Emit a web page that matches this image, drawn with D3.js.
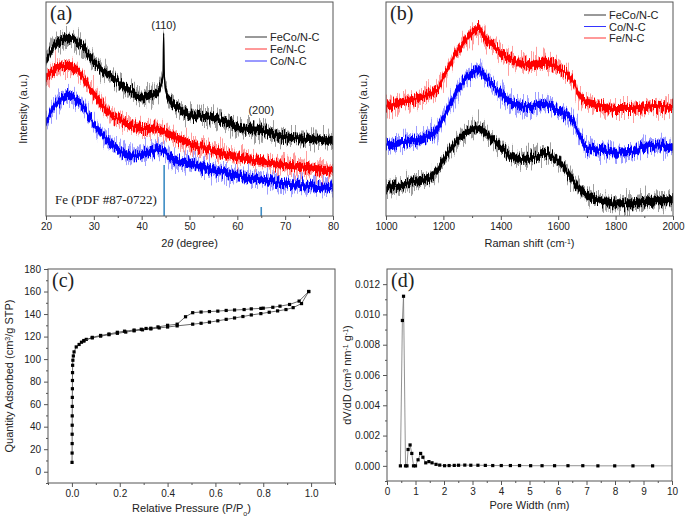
<!DOCTYPE html>
<html>
<head>
<meta charset="utf-8">
<script src="https://cdn.jsdelivr.net/npm/d3@7"></script>
<style>
  body { margin: 0; background: #fff; }
  text { font-family: "Liberation Sans", Arial, sans-serif; fill: #222; }
  .serif { font-family: "Liberation Serif", "Times New Roman", serif; }
</style>
</head>
<body>
<div class="canvas"></div>
<script>
// ---------- data ----------
// (a) XRD, intensity in arbitrary units (0-100 over the frame height)
const xrdTheta  = [20, 21, 22, 23, 25, 27, 30, 33, 35, 38, 40, 41, 43, 44, 44.45, 44.6, 44.75, 45.2, 46, 48, 50, 55, 60, 65, 70, 75, 80];
const xrdFeCo   = [73.2, 77, 80.5, 82.5, 83.3, 80.2, 72, 66, 63, 58, 55.4, 56, 57.7, 60.8, 65, 85.5, 65, 57, 53.9, 50.5, 47.5, 46.1, 41.5, 40, 36.8, 36, 35];
const xrdFe     = [64.7, 67, 69, 70, 70.1, 67, 57, 49, 45.4, 42, 40.7, 40.7, 40.9, 40.2, 39.8, 39.6, 39.4, 38.7, 37.8, 35.6, 33.7, 30.5, 27.4, 25.6, 23.7, 22.3, 21];
const xrdCo     = [44.6, 48, 51.5, 54, 56.2, 53, 43, 35, 31.4, 28.3, 29, 29.9, 30.7, 30.7, 30.4, 30.2, 30.1, 29.2, 26.8, 25.5, 24.5, 21.5, 19, 17, 15.2, 14, 12.8];
const pdfTheta  = [44.7, 65.0];
const pdfHeight = [23.8, 4.2];
const xrdTicks  = [20, 30, 40, 50, 60, 70, 80];

// (b) Raman
const ramanShift = [1000, 1050, 1100, 1150, 1180, 1200, 1250, 1300, 1320, 1350, 1400, 1450, 1500, 1550, 1600, 1650, 1680, 1700, 1750, 1800, 1850, 1900, 1950, 2000];
const ramanFe    = [51.5, 53.1, 54.6, 57, 59.3, 64.7, 77.1, 85.6, 87.9, 82.5, 76.3, 72.4, 70.5, 71.7, 69.3, 63.2, 55.4, 53.1, 51.5, 50, 50, 50.8, 51.5, 50.8];
const ramanCo    = [33, 34.5, 35.3, 37.6, 40.7, 46.1, 58.5, 67, 68.6, 64.7, 57, 52.3, 50.8, 52.3, 49.2, 44.6, 36, 32.2, 30.8, 29.6, 29.9, 32.2, 33, 31];
const ramanFeCo  = [12.8, 14.4, 15.9, 17.5, 21.4, 26, 35.3, 40.7, 41.5, 38.4, 32.2, 26.8, 26.8, 29.1, 26, 16.7, 12, 9.8, 7.4, 5.9, 5.9, 6.7, 7.4, 7.4];
const ramanTicks = [1000, 1200, 1400, 1600, 1800, 2000];

// (c) N2 isotherm
const adsP = [0.0005, 0.0008, 0.001, 0.001, 0.0012, 0.0013, 0.0015, 0.0017, 0.002, 0.0022, 0.0026, 0.003, 0.004, 0.006, 0.009, 0.018, 0.03, 0.04, 0.05, 0.06, 0.085, 0.12, 0.155, 0.19, 0.225, 0.26, 0.295, 0.33, 0.365, 0.40, 0.44, 0.505, 0.54, 0.575, 0.61, 0.645, 0.68, 0.715, 0.75, 0.79, 0.825, 0.86, 0.895, 0.925, 0.96, 0.99];
const adsQ = [8.3, 16.6, 25, 33.3, 41.3, 49.6, 58, 66, 73.7, 81, 88, 94.5, 99, 102.8, 106.4, 110.8, 113, 115, 116.5, 117.5, 118.8, 120.4, 121.7, 122.9, 124, 125.1, 126, 126.8, 127.7, 128.5, 129.5, 131, 131.8, 132.8, 134, 135.3, 136.5, 137.8, 139.2, 140.4, 141.6, 142.8, 144, 145.7, 149.3, 160];
const desP = [0.99, 0.95, 0.91, 0.87, 0.84, 0.80, 0.79, 0.75, 0.72, 0.68, 0.645, 0.61, 0.575, 0.54, 0.505, 0.475, 0.44, 0.40, 0.36, 0.33, 0.31, 0.29, 0.26, 0.22, 0.19, 0.155, 0.12, 0.085, 0.05];
const desQ = [160, 151.5, 148.5, 147, 146, 145.2, 145, 144.6, 144, 143.6, 143.2, 142.6, 142.2, 141.8, 141.2, 137.6, 131, 130, 128.6, 127.4, 127.2, 126.5, 125.8, 124.8, 123.8, 122.3, 121, 119.3, 116];
const isoXTicks = [0, 0.2, 0.4, 0.6, 0.8, 1.0];
const isoYTicks = [0, 20, 40, 60, 80, 100, 120, 140, 160, 180];

// (d) pore size distribution
const poreW  = [0.47, 0.54, 0.58, 0.65, 0.70, 0.74, 0.81, 0.87, 0.93, 1.00, 1.09, 1.18, 1.26, 1.36, 1.47, 1.58, 1.72, 1.85, 2.02, 2.18, 2.36, 2.51, 2.73, 2.94, 3.19, 3.45, 3.71, 4.01, 4.33, 4.65, 5.04, 5.44, 5.88, 6.35, 6.87, 7.40, 7.99, 8.63, 9.32];
const poreDV = [0, 0.0096, 0.0112, 0, 0, 0.00108, 0.00138, 0.00082, 0, 0, 0.0004, 0.00082, 0.00057, 0.0002, 0.00028, 0.0002, 0.0001, 0.00005, 0.00001, 0.00002, 0.00003, 0.00004, 0.00005, 0.00004, 0.00004, 0.00003, 0.00002, 0.00002, 0.00002, 0.00002, 0.00001, 0.00001, 0.00001, 0.00001, 0.00001, 0, 0, 0, 0];
const poreXTicks = [0, 1, 2, 3, 4, 5, 6, 7, 8, 9, 10];
const poreYTicks = [0, 0.002, 0.004, 0.006, 0.008, 0.010, 0.012];

// ---------- svg ----------
const svg = d3.select('.canvas')
  .append('svg')
  .attr('width', 685)
  .attr('height', 518);

const defs = svg.append('defs');

// vertical jitter so the spectra look like noisy measured traces
const addJitter = (id, scale, freq, seed) => {
  const f = defs.append('filter')
    .attr('id', id)
    .attr('filterUnits', 'userSpaceOnUse')
    .attr('x', 0).attr('y', 0).attr('width', 685).attr('height', 518)
    .attr('color-interpolation-filters', 'sRGB');
  f.append('feTurbulence')
    .attr('type', 'fractalNoise')
    .attr('baseFrequency', `${freq} 0.03`)
    .attr('numOctaves', 2)
    .attr('seed', seed)
    .attr('result', 'noise');
  f.append('feColorMatrix')
    .attr('in', 'noise')
    .attr('type', 'matrix')
    .attr('values', '0 0 0 0 0.5  0 1 0 0 0  0 0 1 0 0  0 0 0 0 1')
    .attr('result', 'map');
  f.append('feDisplacementMap')
    .attr('in', 'SourceGraphic')
    .attr('in2', 'map')
    .attr('scale', scale)
    .attr('xChannelSelector', 'R')
    .attr('yChannelSelector', 'G');
};
addJitter('jitCore', 15, 0.9, 3);
addJitter('jitHalo', 34, 1.4, 7);

// frame + scales for one panel
const panel = (box, xDom, yDom, name) => {
  const x = d3.scaleLinear().domain(xDom).range([box.left, box.right]);
  const y = d3.scaleLinear().domain(yDom).range([box.bottom, box.top]);
  defs.append('clipPath').attr('id', 'clip-' + name)
    .append('rect')
    .attr('x', box.left).attr('y', box.top)
    .attr('width', box.right - box.left).attr('height', box.bottom - box.top);
  const g = svg.append('g');
  const plot = g.append('g').attr('clip-path', `url(#clip-${name})`);
  return { x, y, g, plot, box };
};

const frame = (p) => {
  p.g.append('rect')
    .attr('x', p.box.left).attr('y', p.box.top)
    .attr('width', p.box.right - p.box.left)
    .attr('height', p.box.bottom - p.box.top)
    .attr('fill', 'none')
    .attr('stroke', '#555')
    .attr('stroke-width', 1);
};

const styleAxis = (sel) => {
  sel.select('.domain').remove();
  sel.selectAll('line').attr('stroke', '#555');
  sel.selectAll('text')
    .attr('font-size', 10)
    .attr('fill', '#333')
    .style('font-family', '"Liberation Sans", Arial, sans-serif');
};

const bottomAxis = (p, ticks, minor, fmt) => {
  p.g.append('g')
    .attr('transform', `translate(0,${p.box.bottom})`)
    .call(d3.axisBottom(p.x).tickValues(minor).tickSize(2).tickFormat(''))
    .call(styleAxis);
  p.g.append('g')
    .attr('transform', `translate(0,${p.box.bottom})`)
    .call(d3.axisBottom(p.x).tickValues(ticks).tickSize(4).tickPadding(3).tickFormat(fmt))
    .call(styleAxis);
};

const leftAxis = (p, ticks, minor, fmt) => {
  p.g.append('g')
    .attr('transform', `translate(${p.box.left},0)`)
    .call(d3.axisLeft(p.y).tickValues(minor).tickSize(2).tickFormat(''))
    .call(styleAxis);
  p.g.append('g')
    .attr('transform', `translate(${p.box.left},0)`)
    .call(d3.axisLeft(p.y).tickValues(ticks).tickSize(4).tickPadding(3).tickFormat(fmt))
    .call(styleAxis);
};

// noisy trace = a band of constant vertical thickness, jittered by the filters
const noisyTrace = (p, xs, ys, color) => {
  const pts = xs.map((v, i) => [v, ys[i]]);
  const band = (h) => d3.area()
    .x(d => p.x(d[0]))
    .y0(d => p.y(d[1]) + h)
    .y1(d => p.y(d[1]) - h)
    .curve(d3.curveMonotoneX);
  const mid = d3.line()
    .x(d => p.x(d[0]))
    .y(d => p.y(d[1]))
    .curve(d3.curveMonotoneX);
  p.plot.append('path')
    .attr('d', band(6)(pts))
    .attr('fill', color)
    .attr('fill-opacity', 0.38)
    .attr('filter', 'url(#jitHalo)');
  p.plot.append('path')
    .attr('d', band(4)(pts))
    .attr('fill', color)
    .attr('filter', 'url(#jitCore)');
  p.plot.append('path')
    .attr('d', mid(pts))
    .attr('fill', 'none')
    .attr('stroke', color)
    .attr('stroke-width', 1.3);
};

const legend = (p, items, x0, y0, dy) => {
  const lg = p.g.append('g').attr('transform', `translate(${x0},${y0})`);
  items.forEach((it, i) => {
    lg.append('line')
      .attr('x1', 0).attr('x2', 22)
      .attr('y1', i * dy).attr('y2', i * dy)
      .attr('stroke', it.color).attr('stroke-width', 0.8);
    lg.append('text')
      .attr('x', 25).attr('y', i * dy + 4)
      .attr('font-size', 11)
      .attr('fill', '#333')
      .text(it.name);
  });
};

const panelLetter = (p, label) => {
  p.g.append('text')
    .attr('class', 'serif')
    .attr('x', p.box.left + 4).attr('y', p.box.top + 18)
    .attr('font-size', 20)
    .text(label);
};

const yTitle = (p, x, build) => {
  const t = p.g.append('text')
    .attr('transform', `translate(${x},${(p.box.top + p.box.bottom) / 2}) rotate(-90)`)
    .attr('text-anchor', 'middle')
    .attr('font-size', 11);
  build(t);
};

const xTitle = (p, y, build) => {
  const t = p.g.append('text')
    .attr('x', (p.box.left + p.box.right) / 2).attr('y', y)
    .attr('text-anchor', 'middle')
    .attr('font-size', 11);
  build(t);
};

const sup = (t, s) => t.append('tspan').attr('baseline-shift', 'super').attr('font-size', 7).text(s);
const sub = (t, s) => t.append('tspan').attr('baseline-shift', 'sub').attr('font-size', 7).text(s);

// ---------- (a) XRD ----------
const pa = panel({ left: 46, right: 333, top: 2, bottom: 216 }, [20, 80], [0, 100], 'a');
noisyTrace(pa, xrdTheta, xrdCo, '#0000ff');
noisyTrace(pa, xrdTheta, xrdFe, '#ff0000');
noisyTrace(pa, xrdTheta, xrdFeCo, '#000000');
pa.plot.selectAll('.stick')
  .data(pdfTheta)
  .enter().append('line')
  .attr('class', 'stick')
  .attr('x1', d => pa.x(d)).attr('x2', d => pa.x(d))
  .attr('y1', pa.y(0))
  .attr('y2', (d, i) => pa.y(pdfHeight[i]))
  .attr('stroke', '#3d8cc4')
  .attr('stroke-width', 1.6);
frame(pa);
bottomAxis(pa, xrdTicks, d3.range(25, 80, 10), d3.format('d'));
pa.g.append('text').attr('x', pa.x(44.6)).attr('y', 29)
  .attr('text-anchor', 'middle').attr('font-size', 11).text('(110)');
pa.g.append('text').attr('x', pa.x(65)).attr('y', 114)
  .attr('text-anchor', 'middle').attr('font-size', 11).text('(200)');
pa.g.append('text').attr('class', 'serif')
  .attr('x', 55).attr('y', 204).attr('font-size', 13)
  .text('Fe (PDF #87-0722)');
legend(pa, [
  { name: 'FeCo/N-C', color: '#000' },
  { name: 'Fe/N-C', color: '#ff0000' },
  { name: 'Co/N-C', color: '#0000ff' }
], 245, 37, 12);
panelLetter(pa, '(a)');
yTitle(pa, 27, t => t.text('Intensity (a.u.)'));
xTitle(pa, 247, t => {
  t.append('tspan').text('2');
  t.append('tspan').attr('font-style', 'italic').text('θ');
  t.append('tspan').text(' (degree)');
});

// ---------- (b) Raman ----------
const pb = panel({ left: 386, right: 673, top: 2, bottom: 216 }, [1000, 2000], [0, 100], 'b');
noisyTrace(pb, ramanShift, ramanFeCo, '#000000');
noisyTrace(pb, ramanShift, ramanCo, '#0000ff');
noisyTrace(pb, ramanShift, ramanFe, '#ff0000');
frame(pb);
bottomAxis(pb, ramanTicks, d3.range(1100, 2000, 200), d3.format('d'));
legend(pb, [
  { name: 'FeCo/N-C', color: '#000' },
  { name: 'Co/N-C', color: '#0000ff' },
  { name: 'Fe/N-C', color: '#ff0000' }
], 584, 15, 11.5);
panelLetter(pb, '(b)');
yTitle(pb, 367, t => t.text('Intensity (a.u.)'));
xTitle(pb, 247, t => {
  t.append('tspan').text('Raman shift (cm');
  sup(t, '-1');
  t.append('tspan').text(')');
});

// ---------- (c) isotherm ----------
const pc = panel({ left: 48, right: 335, top: 269, bottom: 483 }, [-0.1, 1.1], [-10, 180], 'c');
const isoLine = d3.line().x(d => pc.x(d[0])).y(d => pc.y(d[1]));
[[adsP, adsQ], [desP, desQ]].forEach(([xs, ys]) => {
  const pts = xs.map((v, i) => [v, ys[i]]);
  pc.plot.append('path')
    .attr('d', isoLine(pts))
    .attr('fill', 'none')
    .attr('stroke', '#444')
    .attr('stroke-width', 0.8);
  pc.plot.selectAll(null)
    .data(pts)
    .enter().append('rect')
    .attr('x', d => pc.x(d[0]) - 1.6)
    .attr('y', d => pc.y(d[1]) - 1.6)
    .attr('width', 3.2).attr('height', 3.2)
    .attr('fill', '#000');
});
frame(pc);
bottomAxis(pc, isoXTicks, d3.range(-0.1, 1.15, 0.2), d3.format('.1f'));
leftAxis(pc, isoYTicks, d3.range(-10, 180, 20), d3.format('d'));
panelLetter(pc, '(c)');
yTitle(pc, 13, t => {
  t.append('tspan').text('Quantity Adsorbed (cm');
  sup(t, '3');
  t.append('tspan').text('/g STP)');
});
xTitle(pc, 512, t => {
  t.append('tspan').text('Relative Pressure (P/P');
  sub(t, 'o');
  t.append('tspan').text(')');
});

// ---------- (d) pore size ----------
const pd = panel({ left: 387, right: 672, top: 269, bottom: 481 }, [0, 10], [-0.001, 0.013], 'd');
const pdPts = poreW.map((v, i) => [v, poreDV[i]]);
pd.plot.append('path')
  .attr('d', d3.line().x(d => pd.x(d[0])).y(d => pd.y(d[1]))(pdPts))
  .attr('fill', 'none')
  .attr('stroke', '#777')
  .attr('stroke-width', 0.8);
pd.plot.append('line')
  .attr('x1', pd.x(9.32)).attr('x2', pd.x(10))
  .attr('y1', pd.y(0)).attr('y2', pd.y(0))
  .attr('stroke', '#999').attr('stroke-width', 0.8);
pd.plot.selectAll(null)
  .data(pdPts)
  .enter().append('rect')
  .attr('x', d => pd.x(d[0]) - 1.6)
  .attr('y', d => pd.y(d[1]) - 1.6)
  .attr('width', 3.2).attr('height', 3.2)
  .attr('fill', '#000');
frame(pd);
bottomAxis(pd, poreXTicks, d3.range(0.5, 10, 1), d3.format('d'));
leftAxis(pd, poreYTicks, d3.range(-0.001, 0.013, 0.002), d3.format('.3f'));
panelLetter(pd, '(d)');
yTitle(pd, 351, t => {
  t.append('tspan').text('dV/dD (cm');
  sup(t, '3');
  t.append('tspan').text(' nm');
  sup(t, '-1');
  t.append('tspan').text(' g');
  sup(t, '-1');
  t.append('tspan').text(')');
});
xTitle(pd, 509, t => t.text('Pore Width (nm)'));
</script>
</body>
</html>
